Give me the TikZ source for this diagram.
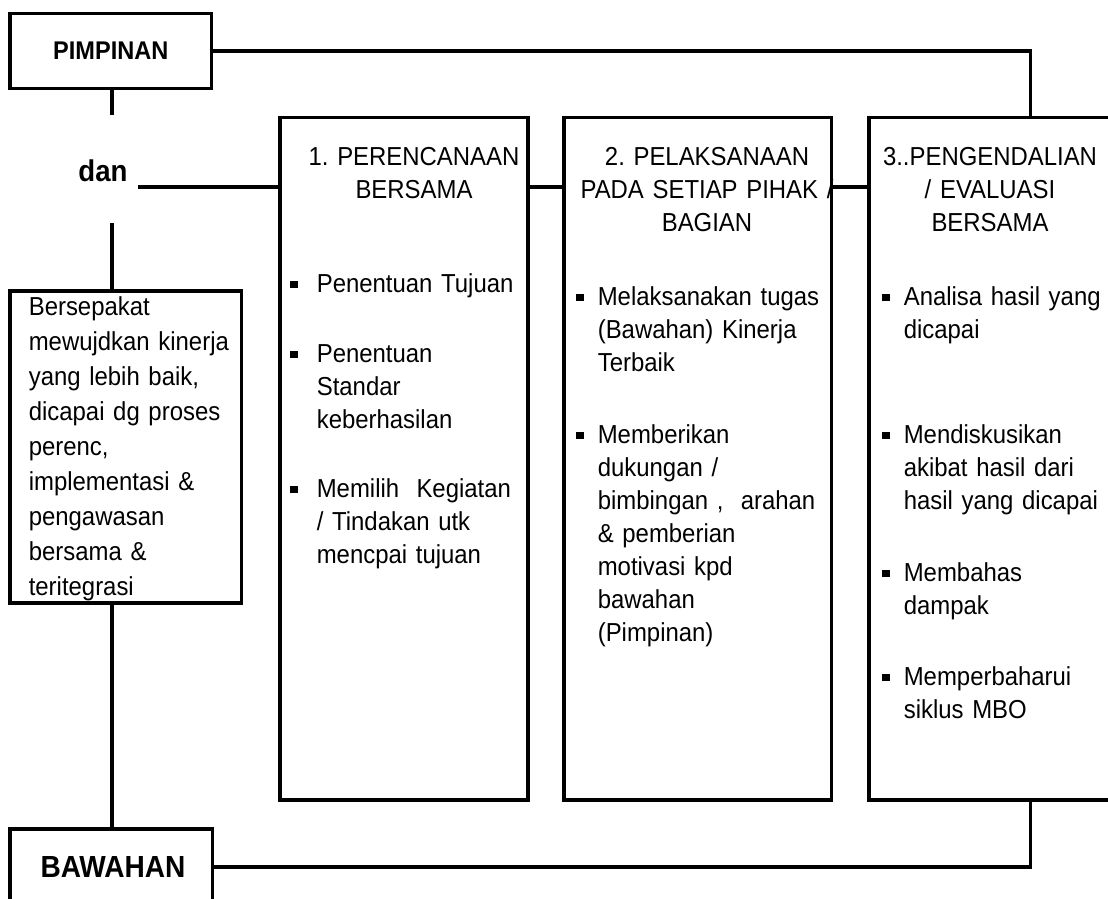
\documentclass[tikz,border=0pt]{standalone}
\usepackage{fontspec}
\setmainfont{Liberation Sans}[FakeStretch=0.92]
\usetikzlibrary{calc}
\newcommand{\mybul}[1]{\llap{\rule[4pt]{7.5pt}{7.5pt}\hspace{#1}}}
\frenchspacing
\begin{document}
\frenchspacing
\begin{tikzpicture}[x=1pt,y=-1pt,line width=3.6pt,
  boxn/.style={draw,rectangle,inner sep=0pt,outer sep=0pt,anchor=north west},
  lbl/.style={inner sep=0pt,font=\bfseries\fontsize{#1}{#1}\selectfont},
  ttl/.style={inner sep=0pt,anchor=base,text width=300pt,align=center,font=\fontsize{26}{33}\selectfont},
  itm/.style={inner sep=0pt,anchor=base west,text width=280pt,align=left,font=\fontsize{26}{33}\selectfont},
  conn/.style={draw,line width=3.6pt}]
\useasboundingbox (0,0) rectangle (1108,899);
\clip (0,0) rectangle (1108,899);
% boxes
\node[boxn,minimum width=201.5pt,minimum height=75pt,lbl=25.6] (pim) at (10,13.5) {PIMPINAN};
\node[boxn,minimum width=231.5pt,minimum height=312pt] (left) at (10,291) {};
\node[boxn,minimum width=202.5pt,minimum height=80pt] (baw) at (10,829) {};
\node[lbl=30.5] (bawt) at (113,867) {BAWAHAN};
\node[boxn,minimum width=248pt,minimum height=682.5pt] (box1) at (280,117.5) {};
\node[boxn,minimum width=267.5pt,minimum height=682.5pt] (box2) at (564,117.5) {};
\node[boxn,minimum width=280pt,minimum height=682.5pt] (box3) at (869,117.5) {};
\node[lbl=30] (dan) at (103,171) {dan};
% coordinates
\coordinate (dantop) at (112,115);
\coordinate (danbot) at (112,223);
\coordinate (danline) at (138,187);
\coordinate (c3top) at (1030.5,117.5);
\coordinate (c3bot) at (1030.5,800);
% connectors
\draw[conn] (pim.east) -| (c3top);
\draw[conn] (dantop |- pim.south) -- (dantop);
\draw[conn] (danline) -- (box1.west |- danline);
\draw[conn] (box1.east |- danline) -- (box2.west |- danline);
\draw[conn] (box2.east |- danline) -- (box3.west |- danline);
\draw[conn] (danbot) -- (danbot |- left.north);
\draw[conn] (danbot |- left.south) -- (danbot |- baw.north);
\draw[conn] (baw.east |- bawt) -| (c3bot);
% left text
\node[itm,font=\fontsize{26}{35}\selectfont] (lt) at (27,315.5) {Bersepakat\\mewujdkan kinerja\\yang lebih baik,\\dicapai dg proses\\perenc,\\implementasi \&\\pengawasan\\bersama \&\\teritegrasi};
% titles
\node[ttl] (t1) at (414,165) {1. PERENCANAAN\\BERSAMA};
\node[ttl] (t2) at (707,165) {2. PELAKSANAAN\\PADA SETIAP PIHAK /\\BAGIAN};
\node[ttl] (t3) at (990,165) {3..PENGENDALIAN\\/ EVALUASI\\BERSAMA};
% box 1 items
\node[itm] (a1) at (315,292) {\mybul{19pt}Penentuan Tujuan};
\node[itm] (a2) at (315,362) {\mybul{19pt}Penentuan\\Standar\\keberhasilan};
\node[itm] (a3) at (315,497) {\mybul{19pt}Memilih~ Kegiatan\\/ Tindakan utk\\mencpai tujuan};
% box 2 items
\node[itm] (b1) at (596,305) {\mybul{14pt}Melaksanakan tugas\\(Bawahan) Kinerja\\Terbaik};
\node[itm] (b2) at (596,443) {\mybul{14pt}Memberikan\\dukungan /\\bimbingan ,~ arahan\\\& pemberian\\motivasi kpd\\bawahan\\(Pimpinan)};
% box 3 items
\node[itm] (c1) at (902,305) {\mybul{14pt}Analisa hasil yang\\dicapai};
\node[itm] (c2) at (902,443) {\mybul{14pt}Mendiskusikan\\akibat hasil dari\\hasil yang dicapai};
\node[itm] (c3) at (902,581) {\mybul{14pt}Membahas\\dampak};
\node[itm] (c4) at (902,685) {\mybul{14pt}Memperbaharui\\siklus MBO};
\end{tikzpicture}
\end{document}
